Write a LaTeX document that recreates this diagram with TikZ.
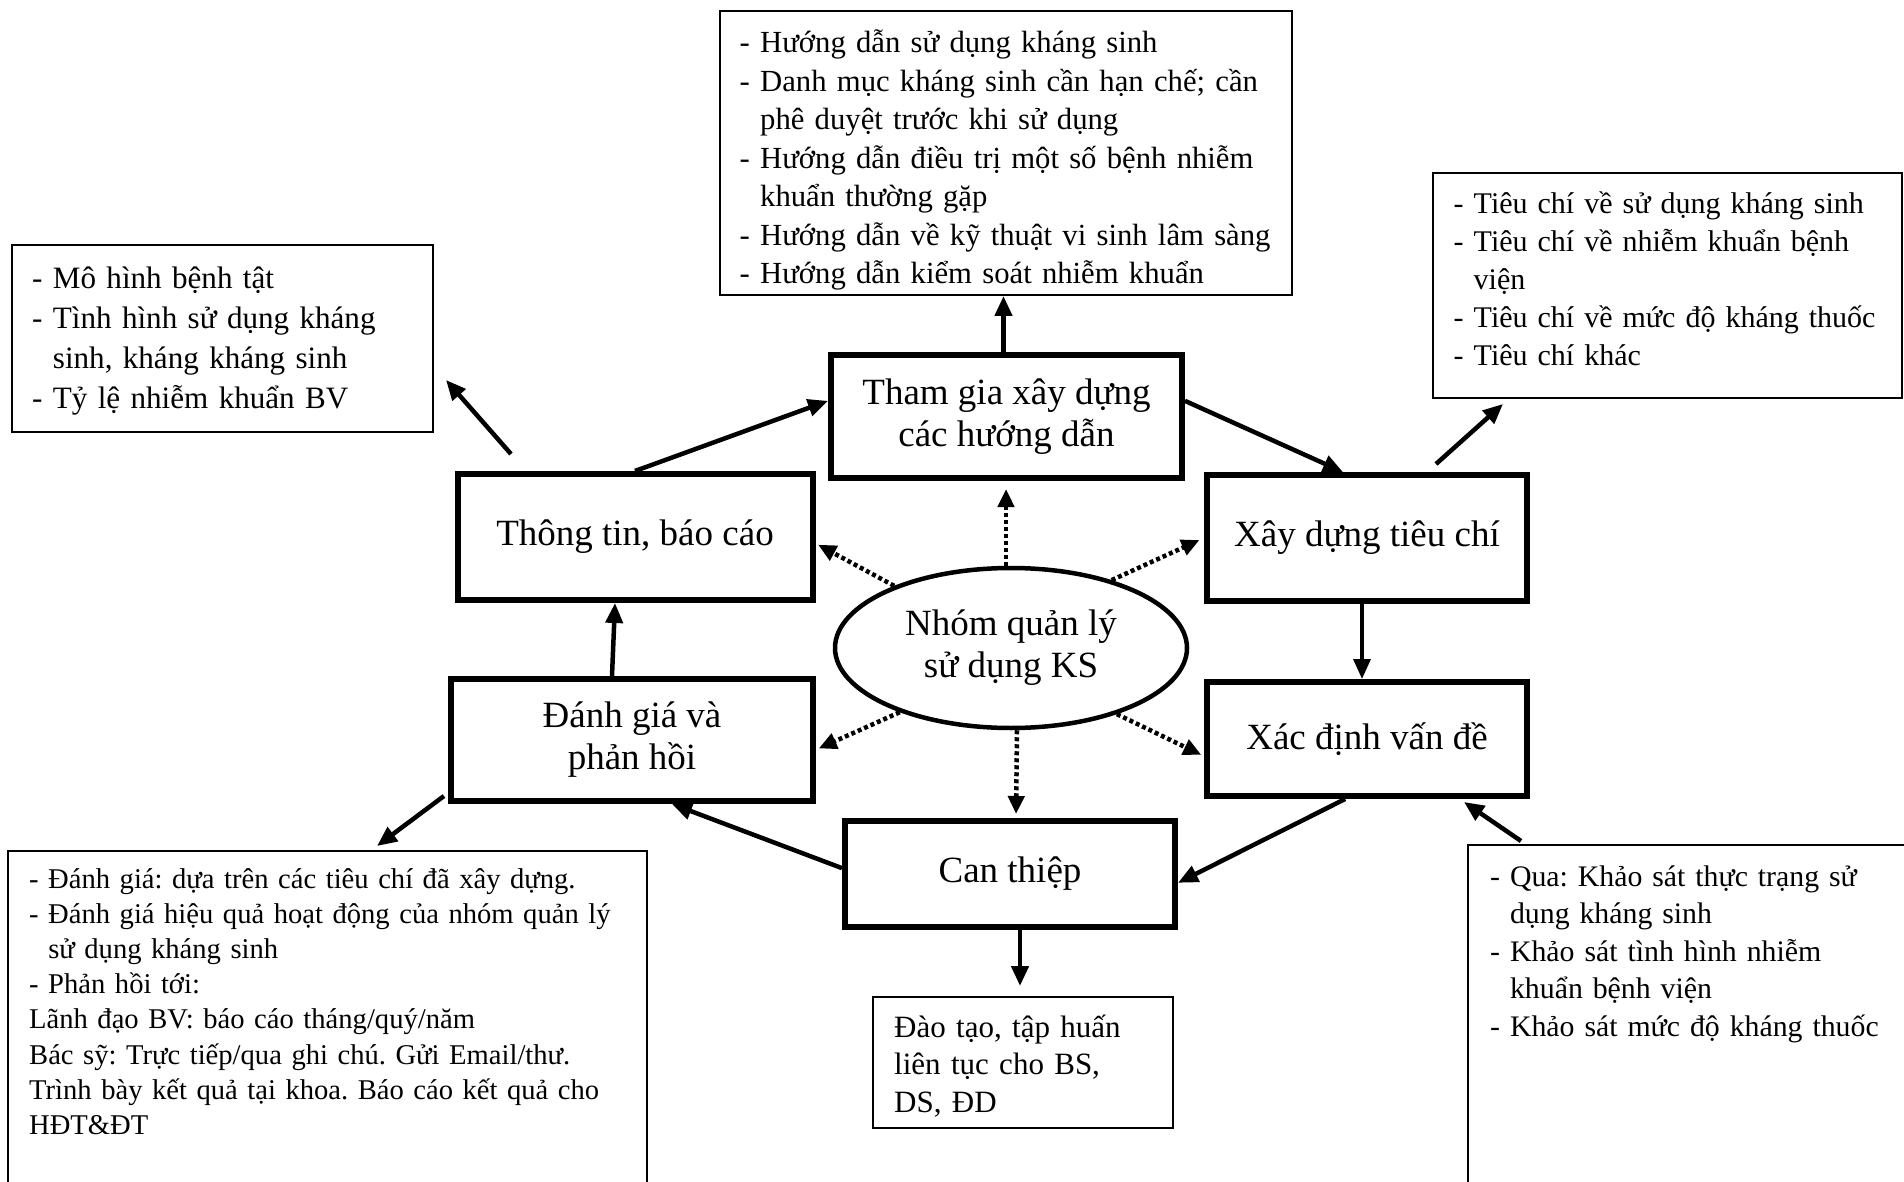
\documentclass[tikz,border=0pt]{standalone}
\usepackage{fontspec}
\setmainfont{Liberation Serif}
\usetikzlibrary{shapes.geometric,arrows.meta}
\tikzset{
  stage/.style={draw, line width=6pt, align=center, font=\fontsize{37}{42}\selectfont},
  note/.style={draw, line width=2pt},
  notetext/.style={anchor=base west, inner sep=0pt, text width=640pt, align=left},
  flow/.style={line width=4.5pt, -{Triangle[length=20pt,width=17pt]}},
  link/.style={line width=4.5pt, dash pattern=on 4pt off 3pt, -{Triangle[length=18pt,width=16pt]}},
}
\newcommand{\dashind}{\phantom{- }}
\frenchspacing

\begin{document}
\begin{tikzpicture}[x=1pt, y=-1pt]
  \useasboundingbox (0,0) rectangle (1904,1182);
  \clip (0,0) rectangle (1904,1182);
  \fill[white] (0,0) rectangle (1904,1182);

  \node[stage, minimum width=351, minimum height=123] (build) at (1006.5,416.5) {Tham gia xây dựng\\các hướng dẫn};
  \node[stage, minimum width=355, minimum height=126] (report) at (635,537) {Thông tin, báo cáo};
  \node[stage, minimum width=320, minimum height=126] (crit) at (1367,538) {Xây dựng tiêu chí};
  \node[stage, minimum width=362, minimum height=122] (eval) at (632,740) {Đánh giá và\\phản hồi};
  \node[stage, minimum width=320, minimum height=114] (issue) at (1367,739) {Xác định vấn đề};
  \node[stage, minimum width=330, minimum height=106] (act) at (1010,874) {Can thiệp};
  \node[draw, ellipse, line width=4.5pt, minimum width=352, minimum height=160, align=center,
        font=\fontsize{37}{42}\selectfont] (team) at (1011,648) {Nhóm quản lý\\sử dụng KS};

  \node[note, minimum width=572, minimum height=284] (guides) at (1006,153) {};
  \node[notetext, font=\fontsize{30.7}{38.5}\selectfont] (guidestext) at (739.5,53) {- Hướng dẫn sử dụng kháng sinh\\
    - Danh mục kháng sinh cần hạn chế; cần\\
    \dashind phê duyệt trước khi sử dụng\\
    - Hướng dẫn điều trị một số bệnh nhiễm\\
    \dashind khuẩn thường gặp\\
    - Hướng dẫn về kỹ thuật vi sinh lâm sàng\\
    - Hướng dẫn kiểm soát nhiễm khuẩn};

  \node[note, minimum width=421, minimum height=187] (stats) at (222.5,338.5) {};
  \node[notetext, font=\fontsize{31.1}{40}\selectfont] (statstext) at (32,289) {- Mô hình bệnh tật\\
    - Tình hình sử dụng kháng\\
    \dashind sinh, kháng kháng sinh\\
    - Tỷ lệ nhiễm khuẩn BV};

  \node[note, minimum width=469, minimum height=225] (criteria) at (1667.5,285.5) {};
  \node[notetext, font=\fontsize{30}{38}\selectfont] (criteriatext) at (1453.5,214) {- Tiêu chí về sử dụng kháng sinh\\
    - Tiêu chí về nhiễm khuẩn bệnh\\
    \dashind viện\\
    - Tiêu chí về mức độ kháng thuốc\\
    - Tiêu chí khác};

  \node[note, minimum width=639, minimum height=399] (feedback) at (327.5,1050.5) {};
  \node[notetext, font=\fontsize{28.6}{35.2}\selectfont] (feedbacktext) at (29,888) {- Đánh giá: dựa trên các tiêu chí đã xây dựng.\\
    - Đánh giá hiệu quả hoạt động của nhóm quản lý\\
    \dashind sử dụng kháng sinh\\
    - Phản hồi tới:\\
    Lãnh đạo BV: báo cáo tháng/quý/năm\\
    Bác sỹ: Trực tiếp/qua ghi chú. Gửi Email/thư.\\
    Trình bày kết quả tại khoa. Báo cáo kết quả cho\\
    HĐT\&ĐT};

  \node[note, minimum width=300, minimum height=131] (training) at (1023,1062.5) {};
  \node[notetext, font=\fontsize{31}{37.6}\selectfont] (trainingtext) at (894,1037) {Đào tạo, tập huấn\\
    liên tục cho BS,\\
    DS, ĐD};

  \node[note, minimum width=492, minimum height=405] (survey) at (1714,1047.5) {};
  \node[notetext, font=\fontsize{29.8}{37.6}\selectfont] (surveytext) at (1490,886) {- Qua: Khảo sát thực trạng sử\\
    \dashind dụng kháng sinh\\
    - Khảo sát tình hình nhiễm\\
    \dashind khuẩn bệnh viện\\
    - Khảo sát mức độ kháng thuốc};

  \draw[flow] ([xshift=-3pt]build.north) -- ([xshift=-3pt]build.north |- guides.south);
  \draw[flow] (report.north) -- (build.175);
  \draw[flow] (build.5) -- (crit.110);
  \draw[flow, line width=3.5pt] ([xshift=-5pt]crit.south) -- ([xshift=-5pt]issue.north);
  \draw[flow] (issue.-110) -- (act.-3);
  \draw[flow] (act.178) -- (eval.-58);
  \draw[flow] ([xshift=-20pt]eval.north) -- ([xshift=-20pt]report.south);

  \draw[flow] ([shift={(-124,-17)}]report.north) -- ([shift={(12,-53)}]stats.south east);
  \draw[flow] ([shift={(69,-8)}]crit.north) -- ([shift={(71,5)}]criteria.south west);
  \draw[flow] ([shift={(-4,-8)}]eval.south west) -- ([shift={(370,-4)}]feedback.north west);
  \draw[flow] ([shift={(54,-3)}]survey.north west) -- ([shift={(97,3)}]issue.south);
  \draw[flow] ([xshift=10pt]act.south) -- ([shift={(-3,-10)}]training.north);

  \draw[link, shorten >=8pt] ([xshift=-5pt]team.north) -- ([xshift=-5pt]team.north |- build.south);
  \draw[link, shorten >=3pt] (team.152) -- (report.-2);
  \draw[link, shorten >=5pt] (team.34) -- (crit.west);
  \draw[link, shorten >=3pt] (team.210) -- (eval.-3);
  \draw[link, shorten >=3pt] (team.-32) -- (issue.186);
  \draw[link, shorten >=4pt] ([xshift=6pt]team.south) -- ([xshift=6pt]act.north);
\end{tikzpicture}
\end{document}
